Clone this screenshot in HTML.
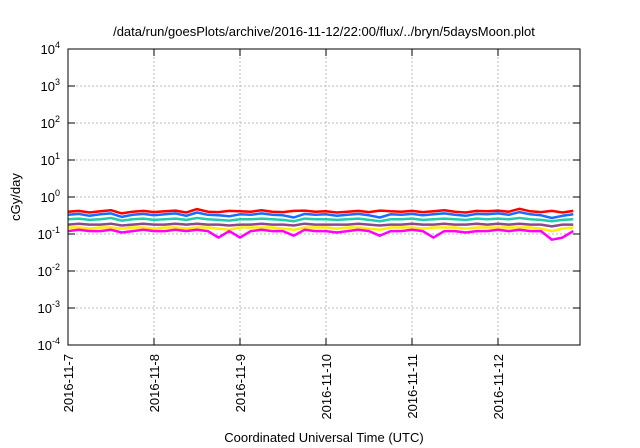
<!DOCTYPE html>
<html><head><meta charset="utf-8"><style>
body{margin:0;background:#fff}
svg{display:block;font-family:"Liberation Sans",sans-serif}
</style></head><body>
<svg id="chart" width="640" height="448" viewBox="0 0 640 448" xmlns="http://www.w3.org/2000/svg">
<text x="324" y="36" font-size="13" text-anchor="middle">/data/run/goesPlots/archive/2016-11-12/22:00/flux/../bryn/5daysMoon.plot</text>
<g id="grid"></g>
<g id="series"></g>
<rect x="68" y="49" width="512" height="296" fill="none" stroke="#000" stroke-width="1"/>
<g id="axes"></g>
<text transform="translate(20,197) rotate(-90)" font-size="13" text-anchor="middle">cGy/day</text>
<text x="324" y="442" font-size="13" text-anchor="middle">Coordinated Universal Time (UTC)</text>
</svg>
<script>
const dayLabels=["2016-11-7","2016-11-8","2016-11-9","2016-11-10","2016-11-11","2016-11-12"];
const yExps=[-4,-3,-2,-1,0,1,2,3,4];
const seriesColors=["#ff0000","#1a6cff","#22ccaa","#8b4a8b","#ffee00","#ff00ff"];
const red=[0.40,0.42,0.38,0.41,0.44,0.36,0.40,0.42,0.39,0.41,0.43,0.38,0.47,0.40,0.39,0.42,0.41,0.40,0.44,0.40,0.39,0.42,0.43,0.40,0.41,0.38,0.40,0.42,0.39,0.43,0.41,0.40,0.42,0.39,0.41,0.44,0.40,0.38,0.42,0.41,0.43,0.40,0.48,0.41,0.39,0.42,0.38,0.42];
const blue=[0.33,0.35,0.31,0.34,0.36,0.29,0.33,0.35,0.32,0.34,0.36,0.31,0.38,0.33,0.32,0.30,0.34,0.33,0.36,0.33,0.32,0.28,0.35,0.33,0.34,0.31,0.33,0.35,0.32,0.28,0.34,0.33,0.35,0.32,0.34,0.36,0.33,0.31,0.35,0.34,0.36,0.33,0.39,0.34,0.32,0.27,0.31,0.34];
const teal=[0.25,0.26,0.24,0.25,0.27,0.23,0.25,0.26,0.24,0.25,0.26,0.24,0.27,0.25,0.24,0.23,0.25,0.25,0.26,0.25,0.24,0.22,0.26,0.25,0.25,0.24,0.25,0.26,0.24,0.22,0.25,0.25,0.26,0.24,0.25,0.26,0.25,0.24,0.26,0.25,0.26,0.25,0.27,0.25,0.24,0.22,0.24,0.25];
const purple=[0.18,0.19,0.18,0.18,0.19,0.17,0.18,0.19,0.18,0.18,0.19,0.18,0.19,0.18,0.18,0.17,0.18,0.18,0.19,0.18,0.18,0.17,0.19,0.18,0.18,0.18,0.18,0.19,0.18,0.17,0.18,0.18,0.19,0.18,0.18,0.19,0.18,0.18,0.19,0.18,0.19,0.18,0.19,0.18,0.18,0.16,0.18,0.18];
const yellow=[0.15,0.15,0.14,0.15,0.15,0.14,0.15,0.15,0.14,0.15,0.15,0.14,0.15,0.15,0.14,0.13,0.15,0.15,0.15,0.15,0.14,0.13,0.15,0.15,0.15,0.14,0.15,0.15,0.14,0.13,0.15,0.15,0.15,0.14,0.15,0.15,0.15,0.14,0.15,0.15,0.15,0.15,0.15,0.15,0.14,0.12,0.14,0.15];
const magenta=[0.12,0.13,0.12,0.12,0.13,0.11,0.12,0.13,0.12,0.12,0.13,0.12,0.13,0.12,0.08,0.12,0.08,0.12,0.13,0.12,0.12,0.09,0.13,0.12,0.12,0.11,0.12,0.13,0.12,0.09,0.12,0.12,0.13,0.12,0.08,0.12,0.12,0.11,0.12,0.12,0.13,0.12,0.13,0.12,0.12,0.07,0.08,0.12];
const seriesData=[red,blue,teal,purple,yellow,magenta];
const seriesNames=["series-red","series-blue","series-teal","series-purple","series-yellow","series-magenta"];
const X0=68,DAYW=86,Y0=49,DEC=37;
function xs(d){return X0+d*DAYW;}
function ys(v){return Y0+(4-Math.log10(v))*DEC;}
const NS="http://www.w3.org/2000/svg";
const grid=document.getElementById('grid'),axes=document.getElementById('axes'),ser=document.getElementById('series');
function mk(tag,attrs,parent){const e=document.createElementNS(NS,tag);for(const k in attrs)e.setAttribute(k,attrs[k]);parent.appendChild(e);return e;}
yExps.forEach((e,i)=>{
  const y=Y0+(4-e)*DEC;
  if(e>-4&&e<4){const g=mk('line',{x1:68,x2:580,y1:y,y2:y,stroke:'#bbb','stroke-dasharray':'2,2'},grid);
  
  }
  const t1=mk('line',{x1:68,x2:75,y1:y,y2:y,stroke:'#000'},axes);
  
  
  const t2=mk('line',{x1:573,x2:580,y1:y,y2:y,stroke:'#000'},axes);
  
  
  const tx=mk('text',{x:60,y:y+5,'font-size':13,'text-anchor':'end'},axes);
  
  
  tx.textContent='10';
  const sp=mk('tspan',{dy:-6,'font-size':9},tx);sp.textContent=String(e);
});
dayLabels.forEach((lab,i)=>{
  const x=xs(i);
  if(i>0){const g=mk('line',{x1:x,x2:x,y1:49,y2:345,stroke:'#bbb','stroke-dasharray':'2,2'},grid);
  
  }
  const t1=mk('line',{x1:x,x2:x,y1:338,y2:345,stroke:'#000'},axes);
  
  
  const t2=mk('line',{x1:x,x2:x,y1:49,y2:56,stroke:'#000'},axes);
  
  
  const tx=mk('text',{transform:`translate(${x+5},354) rotate(-90)`,'font-size':13,'text-anchor':'end'},axes);
  
  
  tx.textContent=lab;
});
seriesData.forEach((arr,si)=>{
  const pts=arr.map((v,i)=>xs(Math.min(i/8,5.95)).toFixed(1)+','+ys(v).toFixed(1)).join(' ');
  const p=mk('polyline',{points:pts,fill:'none',stroke:seriesColors[si],'stroke-width':2.5,'stroke-linejoin':'round'},ser);
  
  
});
</script>
</body></html>
